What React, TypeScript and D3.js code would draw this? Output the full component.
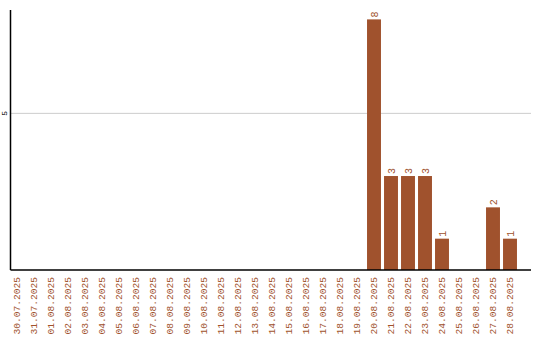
import React from "react";
import * as d3 from "d3";

const dates = [
  "30.07.2025", "31.07.2025", "01.08.2025", "02.08.2025", "03.08.2025", "04.08.2025",
  "05.08.2025", "06.08.2025", "07.08.2025", "08.08.2025", "09.08.2025", "10.08.2025",
  "11.08.2025", "12.08.2025", "13.08.2025", "14.08.2025", "15.08.2025", "16.08.2025",
  "17.08.2025", "18.08.2025", "19.08.2025", "20.08.2025", "21.08.2025", "22.08.2025",
  "23.08.2025", "24.08.2025", "25.08.2025", "26.08.2025", "27.08.2025", "28.08.2025",
];
const counts = [
  0, 0, 0, 0, 0, 0, 0, 0, 0, 0, 0, 0, 0, 0, 0, 0, 0, 0, 0, 0, 0,
  8, 3, 3, 3, 1, 0, 0, 2, 1,
];
const yTicks = [5];

const W = 540;
const H = 340;
const left = 10.5;
const right = 531;
const top = 10;
const bottom = 270;
const color = "#a0522d";
const font = "'Liberation Mono', monospace";

export default function App() {
  const x = d3.scaleBand<string>().domain(dates).range([8.5, 518.5]).paddingInner(0.18).paddingOuter(0.09);
  const y = d3.scaleLinear().domain([0, 8.3]).range([bottom, top]);
  return (
    <svg width={W} height={H} style={{ position: "absolute", left: 0, top: 0, background: "#fff" }}>
      {yTicks.map((t) => (
        <g key={t}>
          <line x1={left} x2={right} y1={y(t)} y2={y(t)} stroke="#cccccc" strokeWidth={1} />
          <text
            transform={`translate(4,${y(t)}) rotate(-90)`}
            textAnchor="middle"
            dy="0.35em"
            fontSize={8}
            fontFamily={font}
            fill="#000"
          >
            {t}
          </text>
        </g>
      ))}
      {dates.map((d, i) =>
        counts[i] > 0 ? (
          <g key={d}>
            <rect x={x(d)} y={y(counts[i])} width={x.bandwidth()} height={bottom - y(counts[i])} fill={color} />
            <text
              transform={`translate(${(x(d) as number) + x.bandwidth() / 2},${y(counts[i]) - 2}) rotate(-90)`}
              textAnchor="start"
              dy="0.35em"
              fontSize={10}
              fontFamily={font}
              fill={color}
            >
              {counts[i]}
            </text>
          </g>
        ) : null
      )}
      {dates.map((d) => (
        <text
          key={"l" + d}
          transform={`translate(${(x(d) as number) + x.bandwidth() / 2},277) rotate(-90)`}
          textAnchor="end"
          dy="0.35em"
          fontSize={9.6}
          fontFamily={font}
          fill={color}
        >
          {d}
        </text>
      ))}
      <line x1={left} x2={left} y1={top} y2={bottom} stroke="#000" strokeWidth={1.5} />
      <line x1={left} x2={right} y1={bottom} y2={bottom} stroke="#000" strokeWidth={1.5} />
    </svg>
  );
}
